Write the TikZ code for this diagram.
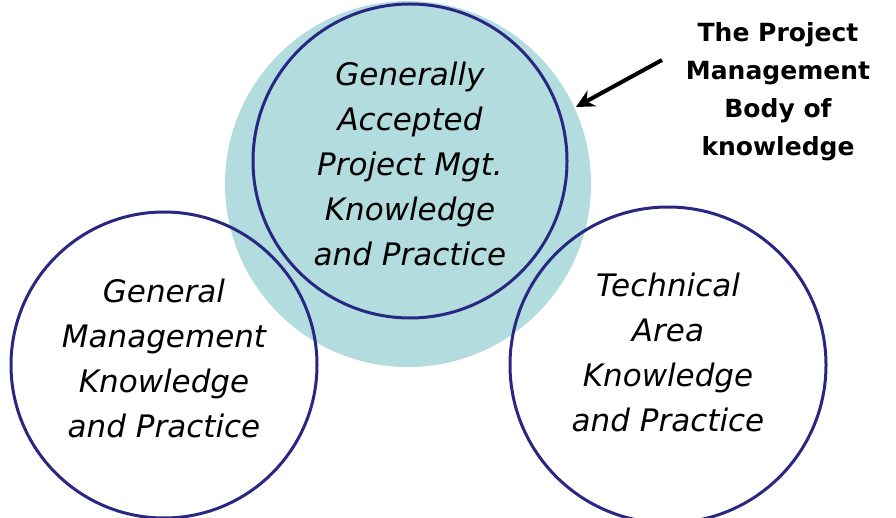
\documentclass[tikz,border=0pt]{standalone}
\usepackage{fontspec}
\setmainfont{DejaVu Sans}
\usetikzlibrary{arrows.meta}
\definecolor{teallite}{RGB}{178,220,222}
\definecolor{ringblue}{RGB}{40,40,130}
\tikzset{ring/.style={draw=ringblue, line width=3pt, circle},
lab/.style={align=center, font=\itshape\fontsize{31}{45}\selectfont}}
\begin{document}
\begin{tikzpicture}[x=1pt,y=-1pt]
\useasboundingbox (0,0) rectangle (896,518);
\node[circle, fill=teallite, minimum size=366pt, inner sep=0] (bg) at (408,184) {};
\node[ring, minimum size=314pt, inner sep=0] (c1) at (410,161) {};
\node[ring, minimum size=306pt, inner sep=0] (c2) at (164,365) {};
\node[ring, minimum size=316pt, inner sep=0] (c3) at (668,365) {};
\node[lab] (t1) at (410,164) {Generally\\Accepted\\Project Mgt.\\Knowledge\\and Practice};
\node[lab] (t2) at (164,358) {General\\Management\\Knowledge\\and Practice};
\node[lab] (t3) at (668,352) {Technical\\Area\\Knowledge\\and Practice};
\node[align=center, font=\bfseries\fontsize{25}{38}\selectfont] (pm) at (778,92) {The Project\\Management\\Body of\\knowledge};
\coordinate (tip) at (576,107);
\draw[line width=4pt, -{Stealth[length=18pt,width=18pt]}] (662,60) -- (tip);
\end{tikzpicture}
\end{document}
